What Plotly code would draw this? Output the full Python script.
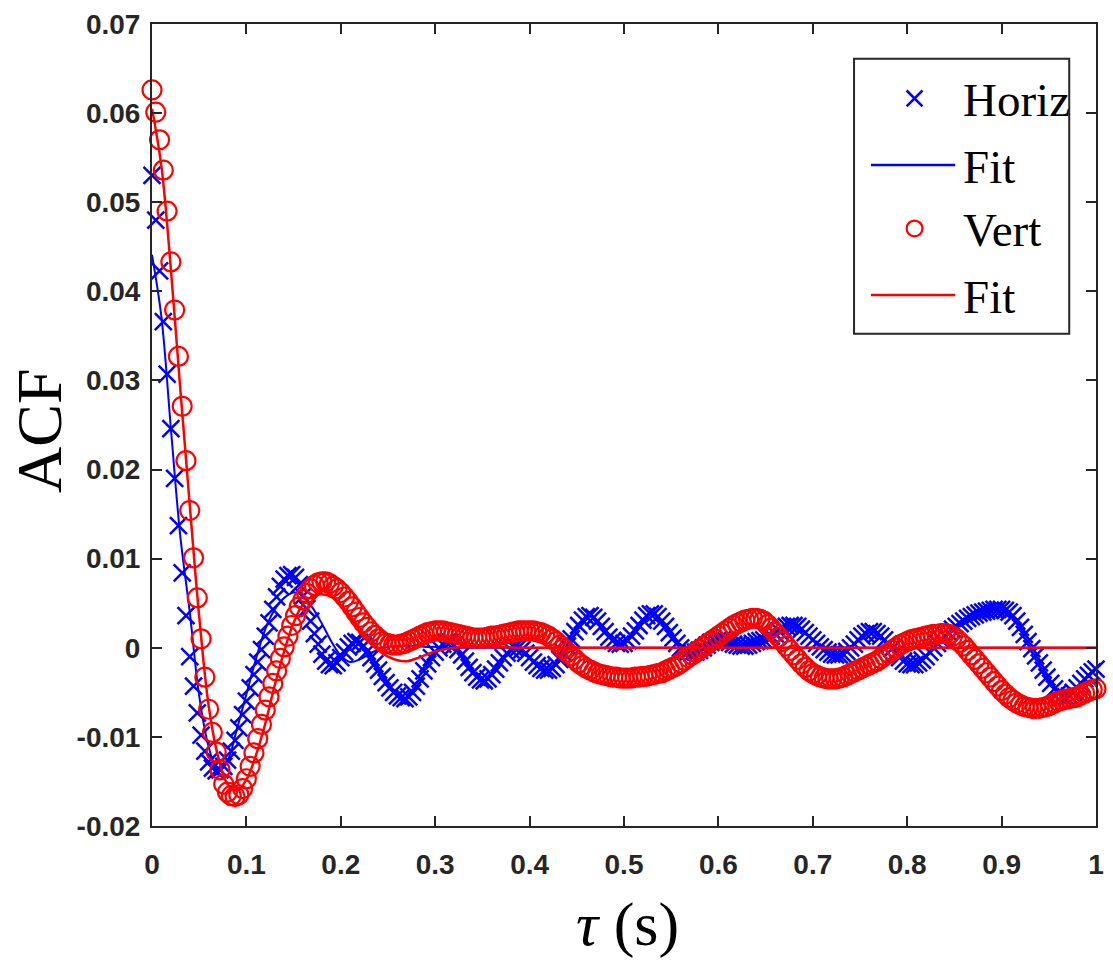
import plotly.graph_objects as go

# ---------------- data ----------------
DT = 0.004  # sampling interval of the ACF estimate (s)
N = 251
tau = [round(DT * i, 3) for i in range(N)]

horiz = [
    0.0530, 0.0480, 0.0423, 0.0366, 0.0307, 0.0246, 0.0190, 0.0137, 0.0084, 0.0036,
    -0.0010, -0.0043, -0.0073, -0.0098, -0.0116, -0.0128, -0.0135, -0.0138, -0.0137, -0.0133,
    -0.0126, -0.0116, -0.0104, -0.0090, -0.0075, -0.0060, -0.0045, -0.0030, -0.0016, -0.0002,
    0.0013, 0.0028, 0.0043, 0.0057, 0.0069, 0.0077, 0.0081, 0.0082, 0.0079, 0.0071,
    0.0058, 0.0044, 0.0030, 0.0016, 0.0004, -0.0007, -0.0015, -0.0019, -0.0020, -0.0017,
    -0.0011, -0.0005, 0.0001, 0.0005, 0.0007, 0.0006, 0.0002, -0.0004, -0.0011, -0.0018,
    -0.0025, -0.0032, -0.0039, -0.0045, -0.0050, -0.0054, -0.0056, -0.0057, -0.0055, -0.0050,
    -0.0043, -0.0035, -0.0026, -0.0018, -0.0011, -0.0005, 0.0000, 0.0004, 0.0006, 0.0006,
    0.0003, -0.0002, -0.0008, -0.0015, -0.0022, -0.0028, -0.0033, -0.0036, -0.0037, -0.0035,
    -0.0030, -0.0024, -0.0017, -0.0011, -0.0006, -0.0002, 0.0000, 0.0000, -0.0002, -0.0006,
    -0.0011, -0.0016, -0.0020, -0.0023, -0.0025, -0.0025, -0.0023, -0.0019, -0.0013, -0.0006,
    0.0002, 0.0010, 0.0018, 0.0025, 0.0031, 0.0035, 0.0036, 0.0034, 0.0030, 0.0024,
    0.0018, 0.0012, 0.0008, 0.0005, 0.0004, 0.0005, 0.0008, 0.0013, 0.0019, 0.0025,
    0.0031, 0.0036, 0.0038, 0.0038, 0.0035, 0.0030, 0.0024, 0.0017, 0.0011, 0.0005,
    0.0000, -0.0003, -0.0005, -0.0006, -0.0005, -0.0003, 0.0000, 0.0003, 0.0006, 0.0008,
    0.0009, 0.0009, 0.0008, 0.0006, 0.0004, 0.0003, 0.0002, 0.0002, 0.0003, 0.0005,
    0.0007, 0.0008, 0.0009, 0.0011, 0.0013, 0.0016, 0.0019, 0.0022, 0.0024, 0.0025,
    0.0025, 0.0024, 0.0021, 0.0017, 0.0013, 0.0009, 0.0005, 0.0001, -0.0002, -0.0005,
    -0.0007, -0.0008, -0.0008, -0.0007, -0.0004, 0.0000, 0.0004, 0.0009, 0.0013, 0.0016,
    0.0018, 0.0018, 0.0016, 0.0013, 0.0009, 0.0004, -0.0001, -0.0006, -0.0011, -0.0015,
    -0.0018, -0.0019, -0.0019, -0.0017, -0.0014, -0.0010, -0.0005, 0.0000, 0.0005, 0.0009,
    0.0013, 0.0017, 0.0021, 0.0024, 0.0027, 0.0030, 0.0033, 0.0035, 0.0037, 0.0039,
    0.0040, 0.0041, 0.0042, 0.0043, 0.0043, 0.0043, 0.0042, 0.0040, 0.0036, 0.0030,
    0.0023, 0.0015, 0.0007, -0.0001, -0.0009, -0.0017, -0.0025, -0.0033, -0.0040, -0.0046,
    -0.0051, -0.0054, -0.0055, -0.0054, -0.0050, -0.0045, -0.0040, -0.0035, -0.0031, -0.0027,
    -0.0024,
]

vert = [
    0.0626, 0.0601, 0.0570, 0.0536, 0.0490, 0.0433, 0.0379, 0.0327, 0.0271, 0.0210,
    0.0154, 0.0101, 0.0056, 0.0010, -0.0033, -0.0069, -0.0095, -0.0117, -0.0137, -0.0153,
    -0.0162, -0.0166, -0.0167, -0.0165, -0.0158, -0.0147, -0.0133, -0.0118, -0.0102, -0.0086,
    -0.0070, -0.0055, -0.0040, -0.0026, -0.0012, 0.0001, 0.0013, 0.0025, 0.0036, 0.0046,
    0.0054, 0.0061, 0.0066, 0.0070, 0.0073, 0.0074, 0.0074, 0.0072, 0.0069, 0.0066,
    0.0062, 0.0057, 0.0052, 0.0046, 0.0040, 0.0034, 0.0028, 0.0023, 0.0018, 0.0014,
    0.0010, 0.0007, 0.0005, 0.0004, 0.0003, 0.0003, 0.0004, 0.0005, 0.0007, 0.0009,
    0.0011, 0.0013, 0.0015, 0.0017, 0.0018, 0.0019, 0.0019, 0.0019, 0.0018, 0.0017,
    0.0016, 0.0015, 0.0014, 0.0013, 0.0012, 0.0011, 0.0011, 0.0011, 0.0011, 0.0012,
    0.0013, 0.0013, 0.0014, 0.0015, 0.0016, 0.0017, 0.0018, 0.0019, 0.0019, 0.0019,
    0.0019, 0.0019, 0.0018, 0.0017, 0.0015, 0.0013, 0.0010, 0.0007, 0.0003, -0.0001,
    -0.0005, -0.0009, -0.0013, -0.0017, -0.0020, -0.0023, -0.0025, -0.0027, -0.0029, -0.0030,
    -0.0031, -0.0032, -0.0033, -0.0033, -0.0034, -0.0034, -0.0034, -0.0034, -0.0033, -0.0033,
    -0.0032, -0.0032, -0.0031, -0.0030, -0.0029, -0.0028, -0.0026, -0.0024, -0.0022, -0.0020,
    -0.0017, -0.0014, -0.0011, -0.0008, -0.0005, -0.0002, 0.0001, 0.0004, 0.0007, 0.0010,
    0.0013, 0.0016, 0.0019, 0.0022, 0.0025, 0.0027, 0.0029, 0.0031, 0.0032, 0.0033,
    0.0033, 0.0032, 0.0030, 0.0026, 0.0022, 0.0017, 0.0012, 0.0007, 0.0002, -0.0003,
    -0.0008, -0.0013, -0.0018, -0.0022, -0.0026, -0.0029, -0.0031, -0.0033, -0.0034, -0.0035,
    -0.0035, -0.0035, -0.0034, -0.0033, -0.0031, -0.0029, -0.0027, -0.0025, -0.0023, -0.0021,
    -0.0019, -0.0017, -0.0015, -0.0012, -0.0009, -0.0006, -0.0003, 0.0000, 0.0003, 0.0005,
    0.0007, 0.0009, 0.0010, 0.0011, 0.0012, 0.0013, 0.0014, 0.0015, 0.0015, 0.0016,
    0.0016, 0.0015, 0.0013, 0.0010, 0.0006, 0.0002, -0.0003, -0.0008, -0.0013, -0.0018,
    -0.0023, -0.0028, -0.0033, -0.0038, -0.0043, -0.0048, -0.0052, -0.0056, -0.0059, -0.0062,
    -0.0064, -0.0066, -0.0067, -0.0068, -0.0068, -0.0068, -0.0067, -0.0066, -0.0064, -0.0062,
    -0.0060, -0.0059, -0.0058, -0.0057, -0.0056, -0.0055, -0.0053, -0.0051, -0.0049, -0.0047,
    -0.0046,
]

fit_tau = [0.00, 0.01, 0.02, 0.03, 0.04, 0.05, 0.06, 0.07, 0.08, 0.09,
           0.10, 0.11, 0.12, 0.13, 0.14, 0.15, 0.16, 0.17, 0.18, 0.19,
           0.20, 0.21, 0.22, 0.23, 0.24, 0.25, 0.26, 0.27, 0.28, 0.29,
           0.30, 0.32, 0.35, 0.40, 0.50, 0.60, 0.70, 0.80, 0.90, 1.00]
fit_horiz = [0.0441, 0.0371, 0.0246, 0.0125, 0.0040, -0.0054, -0.0111, -0.0139, -0.0127, -0.0091,
             -0.0052, -0.0013, 0.0021, 0.0043, 0.0056, 0.0062, 0.0058, 0.0045, 0.0027, 0.0007,
             -0.0009, -0.0016, -0.0013, -0.0007, -0.0002, 0.0001, 0.0002, 0.0002, 0.0002, 0.0001,
             0.0001, 0.0000, 0.0000, 0.0000, 0.0000, 0.0000, 0.0000, 0.0000, 0.0000, 0.0000]
fit_vert = [0.0605, 0.0540, 0.0425, 0.0290, 0.0160, 0.0035, -0.0065, -0.0122, -0.0153, -0.0160,
            -0.0148, -0.0121, -0.0085, -0.0042, -0.0004, 0.0028, 0.0049, 0.0058, 0.0060, 0.0057,
            0.0048, 0.0036, 0.0022, 0.0008, -0.0003, -0.0010, -0.0014, -0.0015, -0.0012, -0.0008,
            -0.0004, 0.0000, 0.0001, 0.0000, 0.0000, 0.0000, 0.0000, 0.0000, 0.0000, 0.0000]

x_ticks = [0, 0.1, 0.2, 0.3, 0.4, 0.5, 0.6, 0.7, 0.8, 0.9, 1]
x_ticklabels = ["0", "0.1", "0.2", "0.3", "0.4", "0.5", "0.6", "0.7", "0.8", "0.9", "1"]
y_ticks = [-0.02, -0.01, 0, 0.01, 0.02, 0.03, 0.04, 0.05, 0.06, 0.07]
y_ticklabels = ["-0.02", "-0.01", "0", "0.01", "0.02", "0.03", "0.04", "0.05", "0.06", "0.07"]

legend_labels = ["Horiz", "Fit", "Vert", "Fit"]

BLUE = "#0000FF"
RED = "#FF0000"
AX = "#262626"

# ---------------- figure ----------------
fig = go.Figure()
fig.add_trace(go.Scatter(x=tau, y=horiz, mode="markers", cliponaxis=False,
                         marker=dict(symbol="x-thin-open", size=17, color=BLUE,
                                     line=dict(color=BLUE, width=2.5))))
fig.add_trace(go.Scatter(x=fit_tau, y=fit_horiz, mode="lines", line_shape="spline",
                         line=dict(color=BLUE, width=2)))
fig.add_trace(go.Scatter(x=tau, y=vert, mode="markers", cliponaxis=False,
                         marker=dict(symbol="circle-open", size=19, color=RED,
                                     line=dict(color=RED, width=2.2))))
fig.add_trace(go.Scatter(x=fit_tau, y=fit_vert, mode="lines", line_shape="spline",
                         line=dict(color=RED, width=2.5)))

# pixel geometry of the plotting box
L, R, T, B = 152, 1104, 18, 826
W, H = R - L, B - T


def px(xp):
    return (xp - L) / W


def py(yp):
    return (B - yp) / H


fig.update_layout(
    width=1113, height=960,
    margin=dict(l=L, r=1113 - R, t=T, b=960 - B),
    paper_bgcolor="white", plot_bgcolor="white",
    showlegend=False,
    xaxis=dict(range=[0, 1], tickvals=x_ticks, ticktext=x_ticklabels,
               ticks="inside", ticklen=10, tickwidth=2, tickcolor=AX,
               showline=True, linecolor=AX, linewidth=2, mirror="ticks",
               showgrid=False, zeroline=False, ticklabelstandoff=12,
               tickfont=dict(family="Liberation Sans Narrow, Arial Narrow, Liberation Sans",
                             size=28, color=AX, weight="bold")),
    yaxis=dict(range=[-0.02, 0.07], tickvals=y_ticks, ticktext=y_ticklabels,
               ticks="inside", ticklen=10, tickwidth=2, tickcolor=AX,
               showline=True, linecolor=AX, linewidth=2, mirror="ticks",
               showgrid=False, zeroline=False, ticklabelstandoff=4,
               tickfont=dict(family="Liberation Sans, Arial", size=28, color=AX,
                             weight="bold")),
)

serif = "Liberation Serif, Times New Roman, serif"
annotations = [
    dict(text="ACF", x=px(39), y=py(427), xref="paper", yref="paper",
         textangle=-90, showarrow=False, xanchor="center", yanchor="middle",
         font=dict(family=serif, size=64, color="black")),
    dict(text="<i>τ</i> (s)", x=px(632), y=py(925), xref="paper", yref="paper",
         showarrow=False, xanchor="center", yanchor="middle",
         font=dict(family=serif, size=62, color="black")),
]

# legend drawn by hand (box, symbols, labels)
shapes = [dict(type="rect", xref="paper", yref="paper",
               x0=px(860), x1=px(1077), y0=py(330), y1=py(53),
               line=dict(color=AX, width=2), fillcolor="white", layer="above")]
rows = [93, 160, 224, 291]
sym_cx = 921
for label, ry in zip(legend_labels, rows):
    annotations.append(dict(text=label, x=px(968), y=py(ry + 2), xref="paper", yref="paper",
                            showarrow=False, xanchor="left", yanchor="middle",
                            font=dict(family=serif, size=47, color="black")))
# Horiz marker (x)
s = 8
for dx0, dy0, dx1, dy1 in [(-s, -s, s, s), (-s, s, s, -s)]:
    shapes.append(dict(type="line", xref="paper", yref="paper",
                       x0=px(sym_cx + dx0), y0=py(rows[0] + dy0),
                       x1=px(sym_cx + dx1), y1=py(rows[0] + dy1),
                       line=dict(color=BLUE, width=2.5), layer="above"))
# Fit lines
for ry, col in [(rows[1], BLUE), (rows[3], RED)]:
    shapes.append(dict(type="line", xref="paper", yref="paper",
                       x0=px(877), x1=px(962), y0=py(ry), y1=py(ry),
                       line=dict(color=col, width=2.5), layer="above"))
# Vert marker (o)
r = 8
shapes.append(dict(type="circle", xref="paper", yref="paper",
                   x0=px(sym_cx - r), x1=px(sym_cx + r),
                   y0=py(rows[2] + r), y1=py(rows[2] - r),
                   line=dict(color=RED, width=2.2), layer="above"))

fig.update_layout(annotations=annotations, shapes=shapes)
fig.write_html("out.html")
